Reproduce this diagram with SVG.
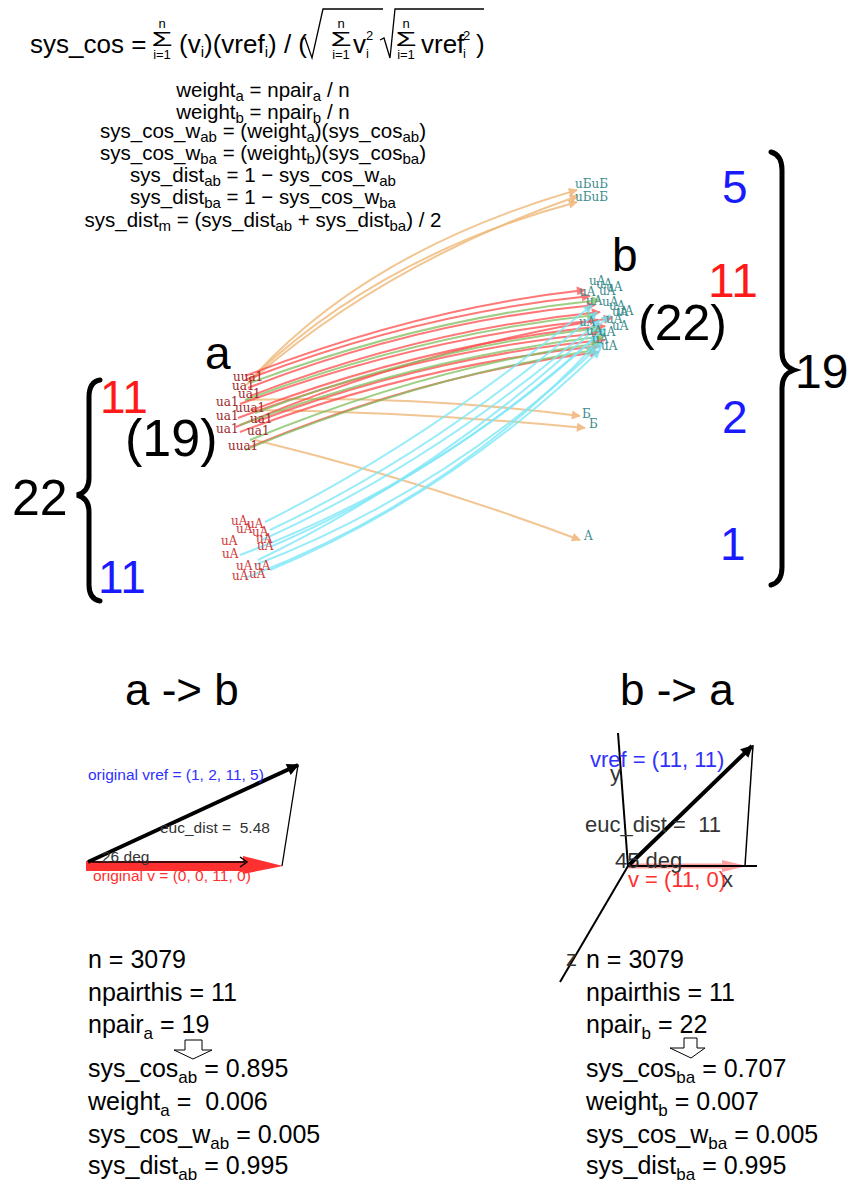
<svg xmlns="http://www.w3.org/2000/svg" width="848" height="1181" viewBox="0 0 848 1181">
<style>
text{font-family:"Liberation Sans",Arial,sans-serif;fill:#000}
.f{font-size:20.5px}
.m{font-size:26px}
.sm{font-size:13px}
.sig{font-size:20px}
.big{font-size:46px}
.blue{fill:#1a1aff}
.red{fill:#ff1a1a}
.ua{font-family:"DejaVu Serif",serif;font-size:12px;fill:#a02828}
.uA{font-family:"DejaVu Serif",serif;font-size:12px;fill:#d03838}
.tl{font-family:"DejaVu Serif",serif;font-size:12px;fill:#3d8c8c}
.cr{fill:none;stroke:#ff4a4a;stroke-width:2;opacity:.75;marker-end:url(#mr)}
.cg{fill:none;stroke:#80c060;stroke-width:2;opacity:.75;marker-end:url(#mg)}
.ct{fill:none;stroke:#f0b878;stroke-width:2;opacity:.8;marker-end:url(#mt)}
.cc{fill:none;stroke:#80e8f8;stroke-width:2;opacity:.8;marker-end:url(#mc)}
.bt{font-size:25px}
.bs{font-size:17px}
.ss{font-size:15px}
.g1{font-size:15.5px;fill:#333}
.g2{font-size:22px;fill:#333}
</style>
<defs>
<marker id="mr" viewBox="0 0 10 10" refX="9" refY="5" markerWidth="13" markerHeight="9" markerUnits="userSpaceOnUse" orient="auto"><path d="M0,0 L10,5 L0,10 z" fill="#ff4a4a"/></marker>
<marker id="mg" viewBox="0 0 10 10" refX="9" refY="5" markerWidth="13" markerHeight="9" markerUnits="userSpaceOnUse" orient="auto"><path d="M0,0 L10,5 L0,10 z" fill="#80c060"/></marker>
<marker id="mt" viewBox="0 0 10 10" refX="9" refY="5" markerWidth="13" markerHeight="9" markerUnits="userSpaceOnUse" orient="auto"><path d="M0,0 L10,5 L0,10 z" fill="#f0b070"/></marker>
<marker id="mc" viewBox="0 0 10 10" refX="9" refY="5" markerWidth="13" markerHeight="9" markerUnits="userSpaceOnUse" orient="auto"><path d="M0,0 L10,5 L0,10 z" fill="#70e0f0"/></marker>
<marker id="mk" viewBox="0 0 10 10" refX="9" refY="5" markerWidth="24" markerHeight="12" markerUnits="userSpaceOnUse" orient="auto"><path d="M0,0 L10,5 L0,10 z" fill="#000"/></marker>
</defs>

<g id="formula">
<text class="m" x="30" y="53">sys_cos =</text>
<text class="sig" transform="translate(162,46) scale(1.7,1)" text-anchor="middle">Σ</text>
<text x="162" y="28" text-anchor="middle" class="sm">n</text>
<text x="162" y="59" text-anchor="middle" class="sm">i=1</text>
<text class="m" x="179" y="53">(v<tspan class="ss" dy="4">i</tspan><tspan dy="-4">)(vref</tspan><tspan class="ss" dy="4">i</tspan><tspan dy="-4">) / (</tspan></text>
<path d="M301,40 L305,38 L312,58 L323,9 L383,9" fill="none" stroke="#000" stroke-width="1.3"/>
<text class="sig" transform="translate(341,46) scale(1.7,1)" text-anchor="middle">Σ</text>
<text x="341" y="28" text-anchor="middle" class="sm">n</text>
<text x="341" y="59" text-anchor="middle" class="sm">i=1</text>
<text class="m" x="353" y="53">v</text>
<text class="sm" x="366" y="40">2</text>
<text class="sm" x="366" y="58">i</text>
<path d="M380,40 L384,38 L390,58 L395,9 L484,9" fill="none" stroke="#000" stroke-width="1.3"/>
<text class="sig" transform="translate(406,46) scale(1.7,1)" text-anchor="middle">Σ</text>
<text x="406" y="28" text-anchor="middle" class="sm">n</text>
<text x="406" y="59" text-anchor="middle" class="sm">i=1</text>
<text class="m" x="421" y="53">vref</text>
<text class="sm" x="463" y="40">2</text>
<text class="sm" x="463" y="58">i</text>
<text class="m" x="476" y="53">)</text>
</g>

<g id="defs-text" class="f" text-anchor="middle">
<text x="263" y="97">weight<tspan class="ss" dy="4">a</tspan><tspan dy="-4"> = npair</tspan><tspan class="ss" dy="4">a</tspan><tspan dy="-4"> / n</tspan></text>
<text x="263" y="119">weight<tspan class="ss" dy="4">b</tspan><tspan dy="-4"> = npair</tspan><tspan class="ss" dy="4">b</tspan><tspan dy="-4"> / n</tspan></text>
<text x="263" y="138">sys_cos_w<tspan class="ss" dy="4">ab</tspan><tspan dy="-4"> = (weight</tspan><tspan class="ss" dy="4">a</tspan><tspan dy="-4">)(sys_cos</tspan><tspan class="ss" dy="4">ab</tspan><tspan dy="-4">)</tspan></text>
<text x="263" y="160">sys_cos_w<tspan class="ss" dy="4">ba</tspan><tspan dy="-4"> = (weight</tspan><tspan class="ss" dy="4">b</tspan><tspan dy="-4">)(sys_cos</tspan><tspan class="ss" dy="4">ba</tspan><tspan dy="-4">)</tspan></text>
<text x="263" y="182">sys_dist<tspan class="ss" dy="4">ab</tspan><tspan dy="-4"> = 1 − sys_cos_w</tspan><tspan class="ss" dy="4">ab</tspan></text>
<text x="263" y="204">sys_dist<tspan class="ss" dy="4">ba</tspan><tspan dy="-4"> = 1 − sys_cos_w</tspan><tspan class="ss" dy="4">ba</tspan></text>
<text x="263" y="227">sys_dist<tspan class="ss" dy="4">m</tspan><tspan dy="-4"> = (sys_dist</tspan><tspan class="ss" dy="4">ab</tspan><tspan dy="-4"> + sys_dist</tspan><tspan class="ss" dy="4">ba</tspan><tspan dy="-4">) / 2</tspan></text>
</g>

<g id="connectors">
<path class="ct" d="M255,375 Q370,250 577,190"/>
<path class="ct" d="M250,380 Q380,255 577,202"/>
<path class="ct" d="M245,386 Q380,265 578,196"/>
<path class="ct" d="M245,400 Q420,395 580,416"/>
<path class="ct" d="M250,410 Q420,412 585,428"/>
<path class="ct" d="M255,440 Q420,480 580,540"/>
<path class="cr" d="M245,376 Q420,308 585,290"/>
<path class="cr" d="M245,380 Q420,313 590,296"/>
<path class="cr" d="M248,388 Q420,321 595,305"/>
<path class="cr" d="M250,396 Q425,329 600,312"/>
<path class="cr" d="M240,404 Q420,337 598,320"/>
<path class="cr" d="M252,410 Q430,343 605,326"/>
<path class="cr" d="M238,418 Q420,350 600,333"/>
<path class="cr" d="M255,422 Q430,356 605,340"/>
<path class="cr" d="M236,427 Q425,347 612,318"/>
<path class="cr" d="M240,432 Q420,364 600,346"/>
<path class="cr" d="M250,447 Q425,374 598,352"/>
<path class="cg" d="M250,383 Q425,318 600,300"/>
<path class="cg" d="M245,400 Q420,334 595,315"/>
<path class="cg" d="M255,413 Q428,347 600,328"/>
<path class="cg" d="M240,425 Q422,357 605,336"/>
<path class="cg" d="M250,440 Q425,368 600,343"/>
<path class="cg" d="M245,450 Q420,377 595,350"/>
<path class="cc" d="M265,522 Q430,440 592,305"/>
<path class="cc" d="M270,530 Q440,450 597,312"/>
<path class="cc" d="M262,540 Q440,460 600,320"/>
<path class="cc" d="M270,547 Q450,470 605,328"/>
<path class="cc" d="M240,555 Q440,480 598,335"/>
<path class="cc" d="M258,560 Q445,470 610,315"/>
<path class="cc" d="M255,565 Q450,490 603,342"/>
<path class="cc" d="M270,570 Q450,495 600,350"/>
<path class="cc" d="M245,578 Q450,500 595,345"/>
</g>

<g id="node-a-labels">
<text class="ua" x="233" y="381">uua1</text>
<text class="ua" x="232" y="390">ua1</text>
<text class="ua" x="238" y="398">ua1</text>
<text class="ua" x="216" y="406">ua1</text>
<text class="ua" x="235" y="412">uua1</text>
<text class="ua" x="216" y="420">ua1</text>
<text class="ua" x="250" y="423">ua1</text>
<text class="ua" x="216" y="433">ua1</text>
<text class="ua" x="247" y="435">ua1</text>
<text class="ua" x="228" y="450">uua1</text>
</g>
<g id="node-A-labels">
<text class="uA" x="231" y="525">uA</text>
<text class="uA" x="247" y="528">uA</text>
<text class="uA" x="236" y="533">uA</text>
<text class="uA" x="252" y="536">uA</text>
<text class="uA" x="221" y="545">uA</text>
<text class="uA" x="256" y="543">uA</text>
<text class="uA" x="257" y="550">uA</text>
<text class="uA" x="222" y="558">uA</text>
<text class="uA" x="236" y="570">uA</text>
<text class="uA" x="254" y="570">uA</text>
<text class="uA" x="232" y="580">uA</text>
<text class="uA" x="249" y="578">uA</text>
</g>
<g id="node-b-labels">
<text class="tl" x="575" y="188">uБuБ</text>
<text class="tl" x="575" y="201">uБuБ</text>
<text class="tl" x="589" y="285">uA</text>
<text class="tl" x="596" y="288">uA</text>
<text class="tl" x="606" y="291">uA</text>
<text class="tl" x="579" y="296">uA</text>
<text class="tl" x="599" y="295">uA</text>
<text class="tl" x="586" y="305">uA</text>
<text class="tl" x="602" y="306">uA</text>
<text class="tl" x="609" y="310">uA</text>
<text class="tl" x="617" y="315">uA</text>
<text class="tl" x="612" y="316">uA</text>
<text class="tl" x="606" y="323">uA</text>
<text class="tl" x="612" y="330">uA</text>
<text class="tl" x="579" y="326">uA</text>
<text class="tl" x="586" y="335">uA</text>
<text class="tl" x="599" y="336">uA</text>
<text class="tl" x="592" y="343">uA</text>
<text class="tl" x="601" y="350">uA</text>
<text class="tl" x="582" y="418">Б</text>
<text class="tl" x="589" y="428">Б</text>
<text class="tl" x="584" y="540">A</text>
</g>

<g id="graph-labels">
<text class="big" x="205" y="369">a</text>
<text class="big" x="612" y="271">b</text>
<text x="638" y="340" style="font-size:50px">(22)</text>
<text x="125" y="456" style="font-size:52px">(19)</text>
<text class="big red" x="100" y="413">11</text>
<text class="big blue" x="98" y="593">11</text>
<text x="12" y="515" style="font-size:50px">22</text>
<text class="big blue" x="722" y="203">5</text>
<text class="red" x="708" y="297" style="font-size:48px">11</text>
<text class="big blue" x="722" y="433">2</text>
<text class="big blue" x="720" y="560">1</text>
<text x="795" y="388" style="font-size:48px">19</text>
</g>
<g id="braces" fill="none" stroke="#000" stroke-width="5" stroke-linecap="round">
<path d="M100,380 Q89,382 89,397 L89,478 Q89,492 77,495 Q89,498 89,512 L89,585 Q89,599 100,601"/>
<path d="M771,152 Q782,155 782,170 L782,352 Q782,366 794,370 Q782,374 782,388 L782,567 Q782,582 771,585"/>
</g>

<g id="title-ab"><text x="125" y="705" style="font-size:44px">a -&gt; b</text></g>
<g id="title-ba"><text x="620" y="705" style="font-size:44px">b -&gt; a</text></g>

<g id="vec-ab">
<rect x="86" y="861" width="159" height="10" fill="#ff3030"/>
<path d="M243,856 L283,866 L243,874 z" fill="#ff3030"/>
<line x1="92" y1="862" x2="245" y2="862" stroke="#000" stroke-width="1.5"/>
<path d="M240,857 L247,862 L240,867" fill="none" stroke="#000" stroke-width="1.5"/>
<line x1="298" y1="765" x2="282" y2="866" stroke="#000" stroke-width="1.3"/>
<line x1="88" y1="862" x2="298" y2="765" stroke="#000" stroke-width="4" marker-end="url(#mk)"/>
<text x="88" y="780" style="font-size:15.5px;fill:#3030ff">original vref = (1, 2, 11, 5)</text>
<text class="g1" x="160" y="833">euc_dist =&#160; 5.48</text>
<text class="g1" x="102" y="862">26 deg</text>
<text x="93" y="881" style="font-size:15.5px;fill:#ff3030">original v = (0, 0, 11, 0)</text>
</g>

<g id="vec-ba">
<line x1="628" y1="866" x2="727" y2="866" stroke="#ffa0a0" stroke-width="5"/>
<path d="M722,860 L747,866 L722,872 z" fill="#ffa0a0"/>
<line x1="618" y1="733" x2="628" y2="866" stroke="#000" stroke-width="2"/>
<line x1="628" y1="866" x2="560" y2="982" stroke="#000" stroke-width="2"/>
<line x1="628" y1="866" x2="757" y2="866" stroke="#000" stroke-width="2"/>
<line x1="753" y1="745" x2="745" y2="866" stroke="#000" stroke-width="1.5"/>
<line x1="628" y1="866" x2="752" y2="746" stroke="#000" stroke-width="4" marker-end="url(#mk)"/>
<text x="590" y="767" style="font-size:22px;fill:#3030ff">vref = (11, 11)</text>
<text class="g2" x="610" y="781">y</text>
<text class="g2" x="585" y="832">euc_dist =&#160; 11</text>
<text class="g2" x="615" y="868">45 deg</text>
<text x="628" y="887" style="font-size:22px;fill:#ff3030">v = (11, 0)</text>
<text class="g2" x="722" y="887">x</text>
<text class="g2" x="566" y="966">z</text>
</g>

<g id="stats-ab" class="bt">
<text x="88" y="968">n = 3079</text>
<text x="88" y="1001">npairthis = 11</text>
<text x="88" y="1033">npair<tspan class="bs" dy="6">a</tspan><tspan dy="-6"> = 19</tspan></text>
<path d="M185,1040 L202,1040 L202,1050 L212,1050 L193,1059 L174,1050 L185,1050 z" fill="#fff" stroke="#000" stroke-width="1"/>
<text x="88" y="1077">sys_cos<tspan class="bs" dy="6">ab</tspan><tspan dy="-6"> = 0.895</tspan></text>
<text x="88" y="1110">weight<tspan class="bs" dy="6">a</tspan><tspan dy="-6"> =&#160; 0.006</tspan></text>
<text x="88" y="1143">sys_cos_w<tspan class="bs" dy="6">ab</tspan><tspan dy="-6"> = 0.005</tspan></text>
<text x="88" y="1174">sys_dist<tspan class="bs" dy="6">ab</tspan><tspan dy="-6"> = 0.995</tspan></text>
</g>

<g id="stats-ba" class="bt">
<text x="586" y="968">n = 3079</text>
<text x="586" y="1001">npairthis = 11</text>
<text x="586" y="1033">npair<tspan class="bs" dy="6">b</tspan><tspan dy="-6"> = 22</tspan></text>
<path d="M684,1038 L697,1038 L697,1048 L705,1048 L691,1058 L670,1048 L684,1048 z" fill="#fff" stroke="#000" stroke-width="1"/>
<text x="586" y="1077">sys_cos<tspan class="bs" dy="6">ba</tspan><tspan dy="-6"> = 0.707</tspan></text>
<text x="586" y="1110">weight<tspan class="bs" dy="6">b</tspan><tspan dy="-6"> = 0.007</tspan></text>
<text x="586" y="1143">sys_cos_w<tspan class="bs" dy="6">ba</tspan><tspan dy="-6"> = 0.005</tspan></text>
<text x="586" y="1174">sys_dist<tspan class="bs" dy="6">ba</tspan><tspan dy="-6"> = 0.995</tspan></text>
</g>
</svg>
